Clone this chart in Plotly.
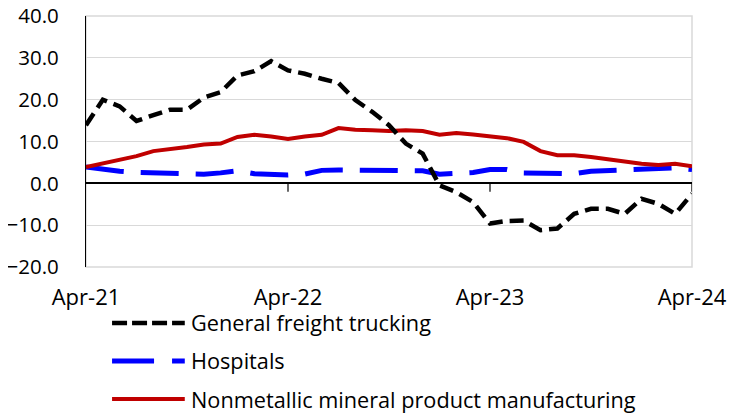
import plotly.graph_objects as go

months = ["Apr-21","May-21","Jun-21","Jul-21","Aug-21","Sep-21","Oct-21","Nov-21","Dec-21",
          "Jan-22","Feb-22","Mar-22","Apr-22","May-22","Jun-22","Jul-22","Aug-22","Sep-22","Oct-22","Nov-22","Dec-22",
          "Jan-23","Feb-23","Mar-23","Apr-23","May-23","Jun-23","Jul-23","Aug-23","Sep-23","Oct-23","Nov-23","Dec-23",
          "Jan-24","Feb-24","Mar-24","Apr-24"]

trucking = [13.9, 20.0, 18.4, 14.9, 16.3, 17.6, 17.6, 20.5, 21.8, 25.8, 26.8, 29.2, 27.0,
            26.2, 25.0, 24.0, 19.9, 17.1, 13.9, 9.5, 7.1, -0.5, -2.1, -4.5, -9.6,
            -9.0, -8.9, -11.2, -10.8, -7.3, -6.1, -6.1, -7.3, -3.7, -4.9, -7.3, -2.5]

hospitals = [3.9, 3.3, 2.9, 2.6, 2.5, 2.5, 2.2, 2.2, 2.5, 3.0, 2.3, 2.2, 2.0,
             2.2, 3.1, 3.2, 3.2, 3.1, 3.1, 3.1, 3.0, 2.2, 2.4, 2.6, 3.3,
             3.3, 2.5, 2.5, 2.4, 2.3, 2.9, 3.1, 3.1, 3.5, 3.7, 3.7, 3.3]

nonmetallic = [3.9, 4.7, 5.7, 6.5, 7.7, 8.1, 8.7, 9.3, 9.5, 11.1, 11.6, 11.2, 10.6,
               11.2, 11.6, 13.2, 12.8, 12.7, 12.5, 12.7, 12.5, 11.6, 12.0, 11.7, 11.3,
               10.8, 9.9, 7.7, 6.7, 6.7, 6.3, 5.7, 5.3, 4.7, 4.4, 4.7, 4.1]

tick_labels = ["Apr-21", "Apr-22", "Apr-23", "Apr-24"]
y_ticks = [-20, -10, 0, 10, 20, 30, 40]

names = ["General freight trucking", "Hospitals", "Nonmetallic mineral product manufacturing"]
colors = ["#000000", "#0000FF", "#C00000"]
dashes = ["14px,7px", "38px,17px", "solid"]
legend_dashes = ["15px,5px", "42px,18px", "solid"]
widths = [4.5, 5, 4]

FONT = "Open Sans"

fig = go.Figure()
# drawing order: hospitals, nonmetallic, trucking
for idx, series in [(1, hospitals), (2, nonmetallic), (0, trucking)]:
    fig.add_trace(go.Scatter(
        x=months, y=series, mode="lines", name=names[idx],
        line=dict(color=colors[idx], width=widths[idx], dash=dashes[idx]),
        showlegend=False,
    ))

shapes = []
# plot border (light gray)
shapes.append(dict(type="rect", xref="paper", yref="paper", x0=0, x1=1, y0=0, y1=1,
                   line=dict(color="#D9D9D9", width=1.5), layer="below"))
# tick marks on zero line
for t in tick_labels[1:]:
    shapes.append(dict(type="line", xref="x", yref="y", x0=t, x1=t, y0=0, y1=-2,
                       line=dict(color="#000000", width=1.2)))

# custom legend
legend_rows = [-0.2231, -0.3745, -0.5259]
annotations = []
for i in range(3):
    shapes.append(dict(type="line", xref="paper", yref="paper",
                       x0=0.043, x1=0.163, y0=legend_rows[i], y1=legend_rows[i],
                       line=dict(color=colors[i], width=widths[i], dash=legend_dashes[i])))
    annotations.append(dict(xref="paper", yref="paper", x=0.170, y=legend_rows[i],
                            xanchor="left", yanchor="middle", showarrow=False,
                            text=names[i], font=dict(family=FONT, size=21.7, color="#000000")))

fig.update_layout(
    width=733, height=405,
    margin=dict(l=78, r=49, t=8, b=146, autoexpand=False),
    paper_bgcolor="white", plot_bgcolor="white",
    shapes=shapes, annotations=annotations,
    font=dict(family=FONT, size=20, color="#000000"),
    xaxis=dict(
        type="category", range=[0, 36], automargin=False,
        tickmode="array", tickvals=tick_labels, ticktext=tick_labels,
        showgrid=False, showline=False, zeroline=False, ticks="",
        tickfont=dict(family=FONT, size=22), ticklabelstandoff=15,
        ticklabeloverflow="allow",
    ),
    yaxis=dict(
        range=[-20, 40], tickmode="array", tickvals=y_ticks, automargin=False,
        tickformat=".1f", showgrid=True, gridcolor="#D9D9D9", gridwidth=1.2,
        zeroline=True, zerolinecolor="#000000", zerolinewidth=1.5,
        showline=True, linecolor="#000000", linewidth=1.2, ticks="",
        tickfont=dict(family=FONT, size=20.5), ticklabelstandoff=22,
        ticklabeloverflow="allow",
    ),
)

fig.write_html("out.html")
